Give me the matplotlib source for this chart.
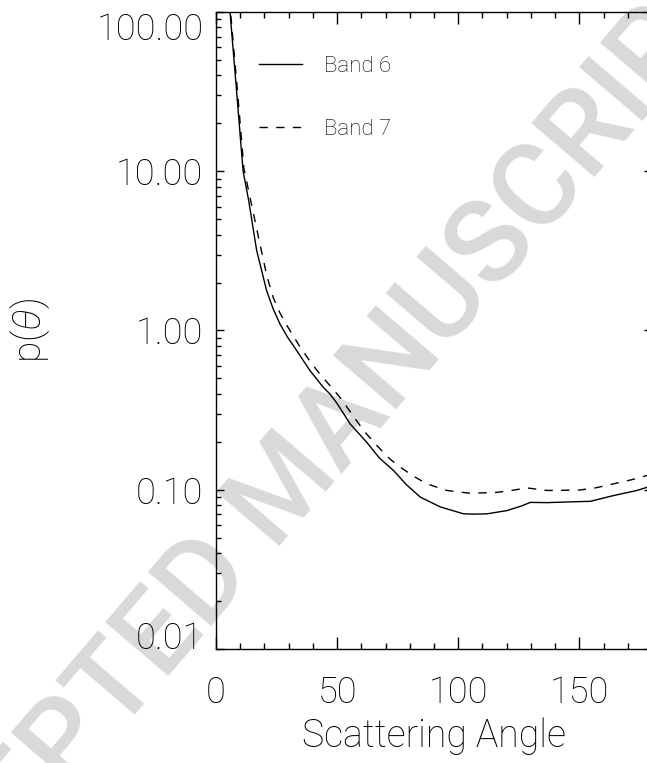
import matplotlib
matplotlib.use('Agg')
import matplotlib.pyplot as plt
from matplotlib.ticker import FixedLocator, MultipleLocator, FormatStrFormatter, LogLocator, NullFormatter

# Phase function, band 6 (solid)
ang_b6 = [2, 5.8, 8.5, 11.2, 13.5, 16.8, 20.9, 23.5, 26.4, 29.5, 33.3, 38.8, 44.3, 47,
          49.9, 55.4, 62.3, 67.5, 73.3, 78.5, 84.3, 92.6, 102.2, 106.5, 111.9, 120.1,
          126, 129.8, 136.6, 145, 154.5, 164.2, 173.8, 180]
p_b6 = [400, 100, 32, 10, 6.55, 3.18, 1.78, 1.38, 1.10, 0.91, 0.749, 0.56, 0.44, 0.40,
        0.35, 0.259, 0.198, 0.158, 0.132, 0.108, 0.090, 0.078, 0.0706, 0.0703, 0.0706,
        0.074, 0.079, 0.0833, 0.083, 0.0838, 0.0846, 0.092, 0.099, 0.106]

# Phase function, band 7 (dashed)
ang_b7 = [2, 6.0, 8.8, 11.5, 14, 18.5, 21, 23.7, 26.5, 29.2, 34, 38.8, 43, 47.1, 51.2,
          56, 60.9, 65, 67.8, 72, 76, 81, 87, 95.3, 105, 116, 122, 128.4, 132, 136.6,
          143, 150.4, 157, 164.2, 171, 178, 180]
p_b7 = [400, 100, 33, 10.5, 6.9, 3.3, 2.2, 1.6, 1.28, 1.08, 0.82, 0.64, 0.53, 0.45, 0.38,
        0.30, 0.236, 0.20, 0.18, 0.155, 0.139, 0.123, 0.109, 0.099, 0.095, 0.0963, 0.099,
        0.1027, 0.101, 0.099, 0.0992, 0.0997, 0.103, 0.109, 0.115, 0.123, 0.126]

y_ticks = [0.01, 0.1, 1, 10, 100]
x_ticks = [0, 50, 100, 150]

plt.rcParams['font.family'] = ['Roboto', 'DejaVu Sans']
plt.rcParams['font.weight'] = 'light'
plt.rcParams['axes.labelweight'] = 'light'
plt.rcParams['mathtext.fontset'] = 'custom'
plt.rcParams['mathtext.it'] = 'Roboto:italic:light'
plt.rcParams['mathtext.rm'] = 'Roboto:light'

fig = plt.figure(figsize=(6.47, 7.63), dpi=100)

# watermark behind the plot
fig.text(0.45, 0.366, 'ACCEPTED MANUSCRIPT', rotation=49.5, rotation_mode='anchor',
         ha='center', va='center', fontsize=84, color='#d9d9d9',
         family='Roboto', weight='medium', zorder=-1)

ax = fig.add_axes([0.3338, 0.1494, 0.674, 0.8349])
ax.set_facecolor('none')

ax.plot(ang_b6, p_b6, color='black', lw=1.0, label='Band 6')
ax.plot(ang_b7, p_b7, color='black', lw=1.0, dashes=(6, 6), label='Band 7')

ax.set_yscale('log')
ax.set_xlim(0, 180)
ax.set_ylim(0.01, 100)

ax.xaxis.set_major_locator(FixedLocator(x_ticks))
ax.xaxis.set_minor_locator(MultipleLocator(10))
ax.yaxis.set_major_locator(FixedLocator(y_ticks))
ax.yaxis.set_minor_locator(LogLocator(base=10, subs=range(2, 10)))
ax.yaxis.set_minor_formatter(NullFormatter())
ax.yaxis.set_major_formatter(FormatStrFormatter('%.2f'))
ax.xaxis.set_major_formatter(FormatStrFormatter('%d'))

ax.tick_params(axis='both', which='both', direction='in', top=True, right=True,
               width=1.0, color='black')
ax.tick_params(axis='x', which='major', length=8.6, pad=19, labelsize=26)
ax.tick_params(axis='x', which='minor', length=4.3)
ax.tick_params(axis='y', which='major', length=5.8, pad=9, labelsize=26)
ax.tick_params(axis='y', which='minor', length=3.6)
for s in ax.spines.values():
    s.set_linewidth(1.0)

# end labels sit inside the axis range, like the original
ylabels = ax.get_yticklabels()
ylabels[0].set_va('baseline')
ylabels[-1].set_va('top')

ax.set_xlabel('Scattering Angle', fontsize=27, va='top')
ax.xaxis.set_label_coords(0.5, -0.108)
ax.set_ylabel(r'p($\theta$)', fontsize=28)
ax.yaxis.set_label_coords(-0.375, 0.5)

leg = ax.legend(loc='upper left', frameon=False, fontsize=16, handlelength=1.9,
                handletextpad=1.0, labelspacing=1.9, borderaxespad=0.0,
                bbox_to_anchor=(0.079, 0.945))

fig.savefig('out.png', dpi=100)
